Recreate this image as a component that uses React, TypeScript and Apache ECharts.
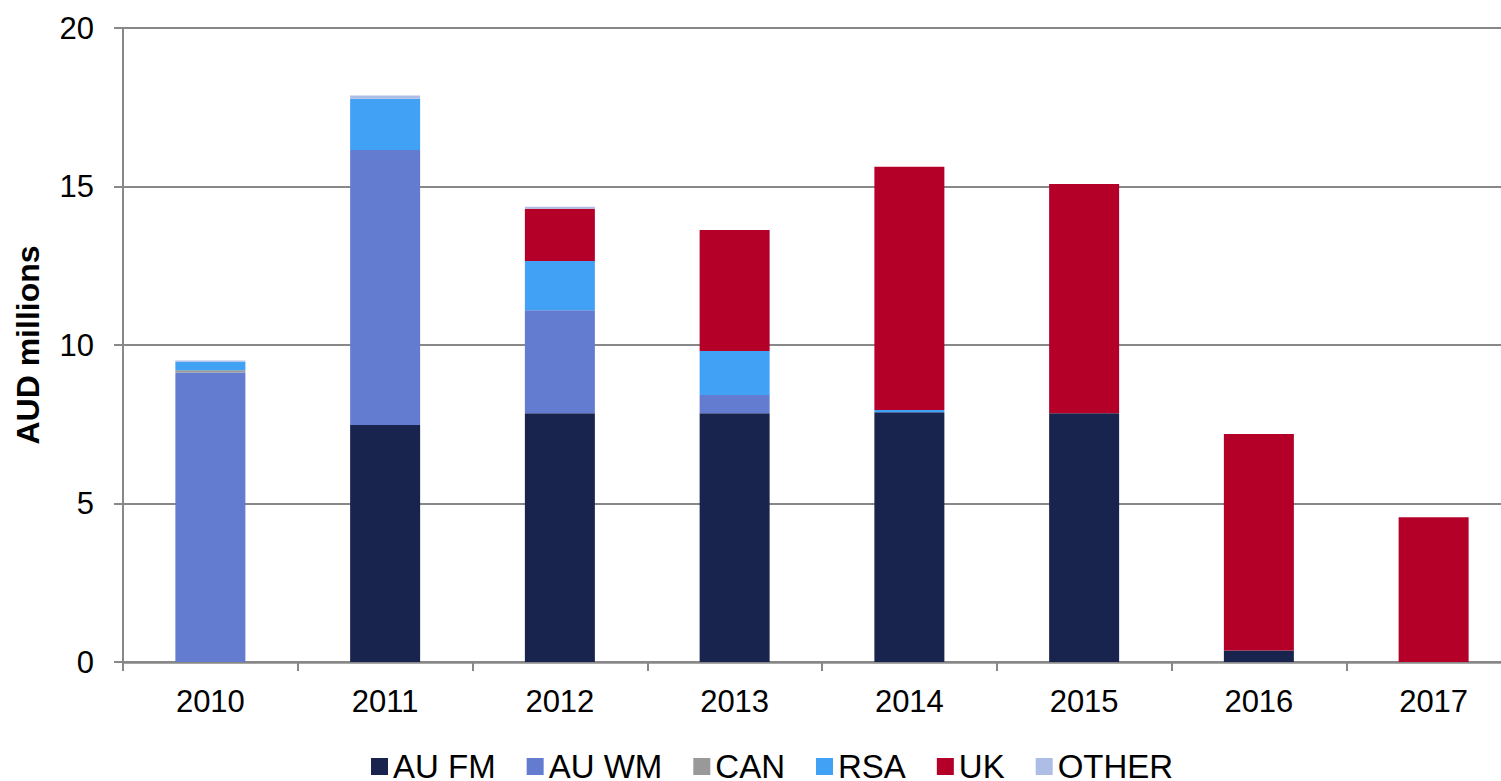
import React, { useEffect, useRef } from "react";
import * as echarts from "echarts";

const years = ["2010", "2011", "2012", "2013", "2014", "2015", "2016", "2017"];
const auFM = [0, 7.48, 7.85, 7.85, 7.88, 7.85, 0.36, 0];
const auWM = [9.13, 8.67, 3.25, 0.57, 0, 0, 0, 0];
const can = [0.07, 0, 0, 0, 0, 0, 0, 0];
const rsa = [0.27, 1.62, 1.55, 1.39, 0.07, 0, 0, 0];
const uk = [0, 0, 1.65, 3.82, 7.67, 7.23, 6.83, 4.57];
const other = [0.04, 0.1, 0.06, 0, 0, 0, 0, 0];

const seriesNames = ["AU FM", "AU WM", "CAN", "RSA", "UK", "OTHER"];
const seriesColors = ["#19244e", "#637cd0", "#999999", "#41a1f5", "#b40028", "#adbde6"];
const seriesData = [auFM, auWM, can, rsa, uk, other];

const FONT = "'Liberation Sans', Arial, sans-serif";

export default function App() {
  const ref = useRef<HTMLDivElement>(null);
  useEffect(() => {
    if (!ref.current) return;
    const chart = echarts.init(ref.current, undefined, { renderer: "svg" });
    chart.setOption({
      animation: false,
      textStyle: { fontFamily: FONT },
      grid: { left: 123, top: 28, width: 1398, height: 634, containLabel: false },
      legend: {
        data: seriesNames,
        left: 366,
        top: 745,
        itemWidth: 17,
        itemHeight: 17,
        itemGap: 31,
        icon: "rect",
        textStyle: { fontSize: 33, color: "#000", fontFamily: FONT },
      },
      xAxis: {
        type: "category",
        data: years,
        axisLine: { lineStyle: { color: "#888", width: 2.5 } },
        axisTick: { show: true, length: 9, lineStyle: { color: "#888", width: 2 } },
        axisLabel: { color: "#000", fontSize: 31, margin: 24, fontFamily: FONT },
      },
      yAxis: {
        type: "value",
        min: 0,
        max: 20,
        interval: 5,
        name: "AUD millions",
        nameLocation: "middle",
        nameGap: 79,
        nameTextStyle: { fontSize: 32, fontWeight: "bold", color: "#000", fontFamily: FONT },
        axisLine: { show: true, lineStyle: { color: "#888", width: 2 } },
        axisTick: { show: true, length: 9, lineStyle: { color: "#888", width: 2 } },
        axisLabel: { color: "#000", fontSize: 31, margin: 29, fontFamily: FONT },
        splitLine: { show: true, lineStyle: { color: "#888", width: 2 } },
      },
      series: seriesNames.map((name, i) => ({
        name,
        type: "bar",
        stack: "total",
        barWidth: 70,
        data: seriesData[i],
        itemStyle: { color: seriesColors[i] },
      })),
    });
    return () => chart.dispose();
  }, []);
  return (
    <div
      style={{ position: "fixed", left: 0, top: 0, width: 1501, height: 781, overflow: "hidden", background: "#fff" }}
    >
      <div ref={ref} style={{ width: 1530, height: 781 }} />
    </div>
  );
}
